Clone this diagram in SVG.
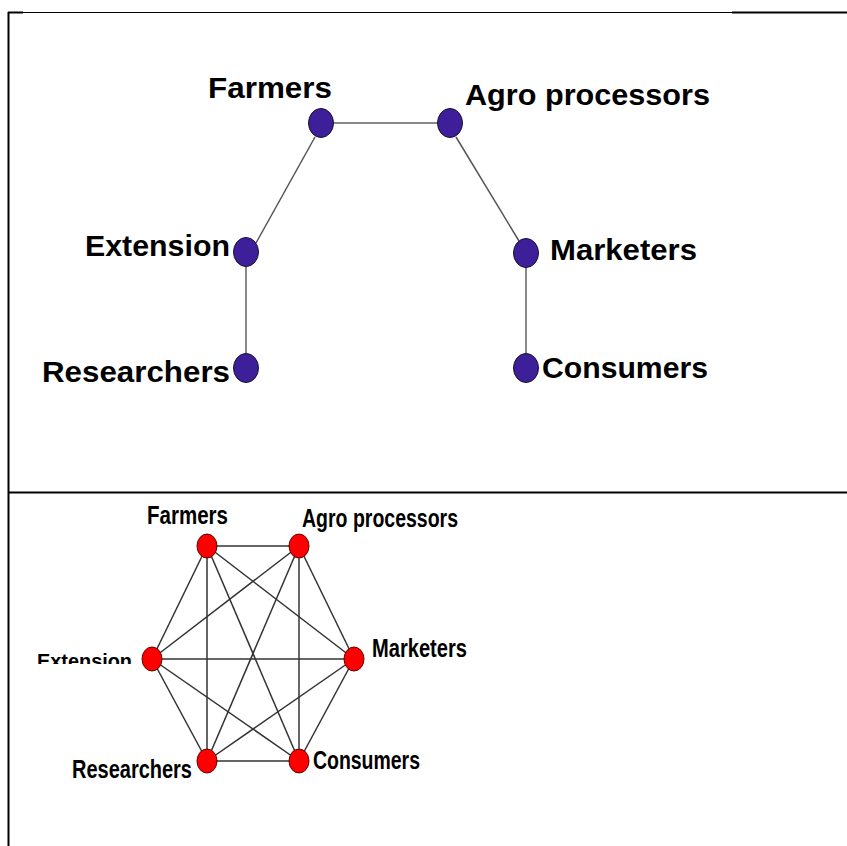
<svg xmlns="http://www.w3.org/2000/svg" width="847" height="846" viewBox="0 0 847 846">
<style>
.frame{stroke:#000;fill:none}
.lbl1{font-family:"Liberation Sans",Arial,sans-serif;font-weight:bold;font-size:29px;fill:#000}
.lbl2{font-family:"Liberation Sans Narrow","Liberation Sans",Arial,sans-serif;font-weight:bold;font-size:25px;fill:#000}
.n1{fill:#3d1f99;stroke:#1a1030;stroke-width:1}
.n2{fill:#ff0000;stroke:#600000;stroke-width:1}
.e1{stroke:#555;stroke-width:1.5;fill:none}
.e1g{stroke:#888;stroke-width:2;fill:none}
.e2{stroke:#333;stroke-width:1.5;fill:none}
</style>
<defs>
<clipPath id="clipExt"><rect x="0" y="640" width="200" height="24"/></clipPath>
</defs>
<rect width="847" height="846" fill="#fff"/>
<g id="frame">
<line class="frame" x1="8" y1="12.5" x2="847" y2="12.5" stroke-width="1"/>
<line class="frame" x1="732" y1="12.5" x2="847" y2="12.5" stroke-width="2"/>
<line class="frame" x1="8" y1="12.5" x2="23" y2="12.5" stroke-width="2"/>
<line class="frame" x1="8.5" y1="12" x2="8.5" y2="846" stroke-width="2"/>
<line class="frame" x1="8" y1="492.5" x2="847" y2="492.5" stroke-width="2"/>
</g>
<g id="connectors">
<line class="e1g" x1="321" y1="123" x2="450" y2="123"/>
<line class="e1" x1="315" y1="137" x2="256" y2="243"/>
<line class="e1" x1="456" y1="137" x2="519" y2="241"/>
<line class="e1g" x1="246" y1="252" x2="246" y2="368" stroke-width="1.5"/>
<line class="e1g" x1="526" y1="253" x2="526" y2="368"/>
<line class="e2" x1="207" y1="546" x2="299" y2="546" stroke="#666" stroke-width="2"/>
<line class="e2" x1="207" y1="546" x2="152" y2="659"/>
<line class="e2" x1="207" y1="546" x2="354" y2="659"/>
<line class="e2" x1="207" y1="546" x2="207" y2="761"/>
<line class="e2" x1="207" y1="546" x2="299" y2="761"/>
<line class="e2" x1="299" y1="546" x2="152" y2="659"/>
<line class="e2" x1="299" y1="546" x2="354" y2="659"/>
<line class="e2" x1="299" y1="546" x2="207" y2="761"/>
<line class="e2" x1="299" y1="546" x2="299" y2="761"/>
<line class="e2" x1="152" y1="659" x2="354" y2="659"/>
<line class="e2" x1="152" y1="659" x2="207" y2="761"/>
<line class="e2" x1="152" y1="659" x2="299" y2="761"/>
<line class="e2" x1="354" y1="659" x2="207" y2="761"/>
<line class="e2" x1="354" y1="659" x2="299" y2="761"/>
<line class="e2" x1="207" y1="761" x2="299" y2="761"/>
</g>
<g id="top-farmers"><ellipse class="n1" cx="321" cy="123" rx="12.5" ry="14.5"/><text class="lbl1" x="208" y="98" textLength="124" lengthAdjust="spacingAndGlyphs">Farmers</text></g>
<g id="top-agro"><ellipse class="n1" cx="450" cy="123" rx="12.5" ry="14.5"/><text class="lbl1" x="465" y="105" textLength="245" lengthAdjust="spacingAndGlyphs">Agro processors</text></g>
<g id="top-extension"><ellipse class="n1" cx="246" cy="252" rx="12.5" ry="14.5"/><text class="lbl1" x="85" y="256" textLength="145" lengthAdjust="spacingAndGlyphs">Extension</text></g>
<g id="top-marketers"><ellipse class="n1" cx="526" cy="253" rx="12.5" ry="14.5"/><text class="lbl1" x="550" y="260" textLength="147" lengthAdjust="spacingAndGlyphs">Marketers</text></g>
<g id="top-researchers"><ellipse class="n1" cx="246" cy="368" rx="12.5" ry="14.5"/><text class="lbl1" x="42" y="382" textLength="188" lengthAdjust="spacingAndGlyphs">Researchers</text></g>
<g id="top-consumers"><ellipse class="n1" cx="526" cy="368" rx="12.5" ry="14.5"/><text class="lbl1" x="542" y="378" textLength="166" lengthAdjust="spacingAndGlyphs">Consumers</text></g>
<g id="bot-farmers"><ellipse class="n2" cx="207" cy="546" rx="10" ry="12"/><text class="lbl2" x="147" y="524" textLength="81" lengthAdjust="spacingAndGlyphs">Farmers</text></g>
<g id="bot-agro"><ellipse class="n2" cx="299" cy="546" rx="10" ry="12"/><text class="lbl2" x="302" y="527" textLength="156" lengthAdjust="spacingAndGlyphs">Agro processors</text></g>
<g id="bot-extension"><ellipse class="n2" cx="152" cy="659" rx="10" ry="12"/><text class="lbl2" x="37" y="668" textLength="95" lengthAdjust="spacingAndGlyphs" font-size="20" clip-path="url(#clipExt)" style="font-family:'Liberation Sans',Arial,sans-serif;font-size:20px">Extension</text></g>
<g id="bot-marketers"><ellipse class="n2" cx="354" cy="659" rx="10" ry="12"/><text class="lbl2" x="372" y="657" textLength="95" lengthAdjust="spacingAndGlyphs">Marketers</text></g>
<g id="bot-researchers"><ellipse class="n2" cx="207" cy="761" rx="10" ry="12"/><text class="lbl2" x="72" y="778" textLength="120" lengthAdjust="spacingAndGlyphs">Researchers</text></g>
<g id="bot-consumers"><ellipse class="n2" cx="299" cy="761" rx="10" ry="12"/><text class="lbl2" x="313" y="769" textLength="107" lengthAdjust="spacingAndGlyphs">Consumers</text></g>
</svg>
